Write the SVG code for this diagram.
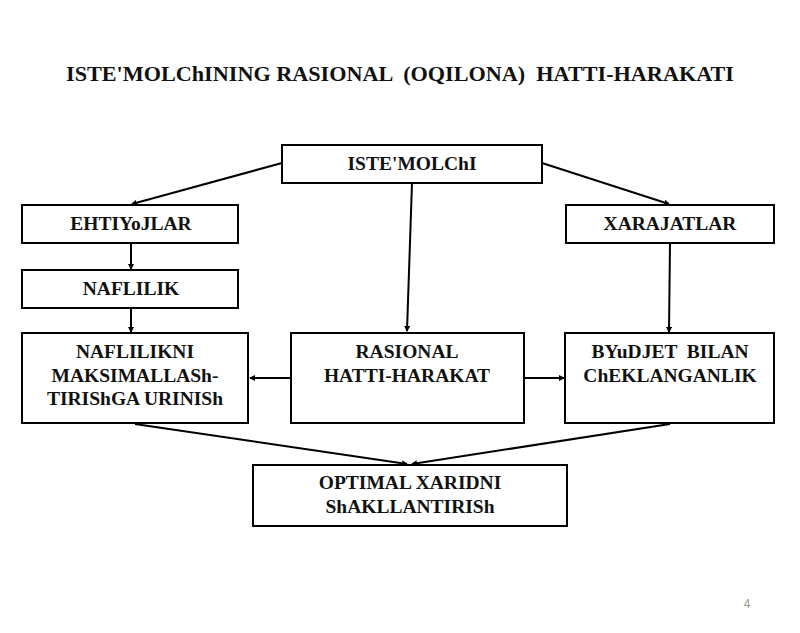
<svg xmlns="http://www.w3.org/2000/svg" width="800" height="633" viewBox="0 0 800 633">
<style>
.box{fill:#fff;stroke:#000;stroke-width:2}
.t{font-family:"Liberation Serif","DejaVu Serif",serif;font-weight:bold;font-size:19.5px;fill:#111;text-anchor:middle}
.title{font-family:"Liberation Serif","DejaVu Serif",serif;font-weight:bold;font-size:21px;fill:#111;text-anchor:middle}
.c{stroke:#000;stroke-width:2;fill:none;marker-end:url(#ah)}
</style>
<defs>
<marker id="ah" markerWidth="6" markerHeight="6" refX="5" refY="3" orient="auto" markerUnits="userSpaceOnUse">
<path d="M0,0 L6,3 L0,6 Z" fill="#000"/>
</marker>
</defs>
<rect width="800" height="633" fill="#fff"/>
<text class="title" x="400" y="81" textLength="668" lengthAdjust="spacingAndGlyphs" xml:space="preserve">ISTE'MOLChINING RASIONAL  (OQILONA)  HATTI-HARAKATI</text>
<g id="connectors">
<line class="c" x1="282" y1="163" x2="132" y2="204"/>
<line class="c" x1="542" y1="163" x2="669" y2="204"/>
<line class="c" x1="412" y1="183" x2="407" y2="331"/>
<line class="c" x1="131" y1="243" x2="131" y2="269"/>
<line class="c" x1="131" y1="308" x2="131" y2="332"/>
<line class="c" x1="670" y1="243" x2="669" y2="332"/>
<line class="c" x1="291" y1="378" x2="250" y2="378"/>
<line class="c" x1="524" y1="378" x2="564" y2="378"/>
<line class="c" x1="135" y1="424" x2="407" y2="464"/>
<line class="c" x1="670" y1="424" x2="412" y2="464"/>
</g>
<g id="n-istemolchi"><rect class="box" x="282" y="145" width="260" height="38"/><text class="t" x="412" y="170">ISTE'MOLChI</text></g>
<g id="n-ehtiyojlar"><rect class="box" x="22" y="205" width="216" height="38"/><text class="t" x="131" y="230">EHTIYoJLAR</text></g>
<g id="n-naflilik"><rect class="box" x="22" y="270" width="216" height="38"/><text class="t" x="131" y="295">NAFLILIK</text></g>
<g id="n-xarajatlar"><rect class="box" x="566" y="205" width="208" height="38"/><text class="t" x="670" y="230">XARAJATLAR</text></g>
<g id="n-maks"><rect class="box" x="22" y="333" width="226" height="90"/><text class="t" x="135" y="358">NAFLILIKNI</text><text class="t" x="135" y="382">MAKSIMALLASh-</text><text class="t" x="135" y="405">TIRIShGA URINISh</text></g>
<g id="n-rasional"><rect class="box" x="291" y="333" width="233" height="90"/><text class="t" x="407" y="358">RASIONAL</text><text class="t" x="407" y="382">HATTI-HARAKAT</text></g>
<g id="n-byudjet"><rect class="box" x="565" y="333" width="209" height="90"/><text class="t" x="670" y="358" xml:space="preserve">BYuDJET  BILAN</text><text class="t" x="670" y="382">ChEKLANGANLIK</text></g>
<g id="n-optimal"><rect class="box" x="253" y="465" width="314" height="61"/><text class="t" x="410" y="489">OPTIMAL XARIDNI</text><text class="t" x="410" y="513">ShAKLLANTIRISh</text></g>
<text x="747" y="608" font-family="Liberation Sans, Arial, sans-serif" font-size="12" fill="#999" text-anchor="middle">4</text>
</svg>
